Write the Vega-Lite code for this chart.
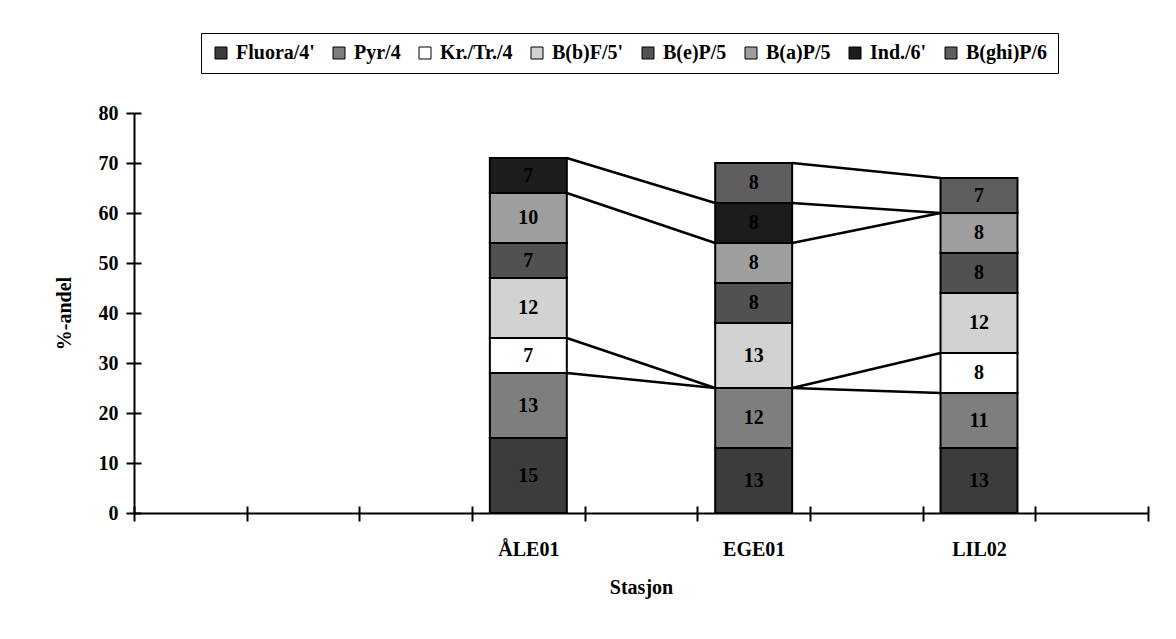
{
  "$schema": "https://vega.github.io/schema/vega-lite/v6.json",
  "width": 1014,
  "height": 400,
  "autosize": {"type": "none"},
  "padding": {"left": 134, "top": 113, "right": 28, "bottom": 126},
  "background": "white",
  "config": {
    "view": {"stroke": null},
    "font": "Liberation Serif",
    "axis": {
      "domainColor": "black", "domainWidth": 2, "tickColor": "black", "tickWidth": 2,
      "labelColor": "black", "titleColor": "black", "grid": false,
      "labelFont": "Liberation Serif", "titleFont": "Liberation Serif",
      "labelFontSize": 20, "labelFontWeight": "bold", "titleFontSize": 20, "titleFontWeight": "bold"
    }
  },
  "datasets": {
    "bars": [
      {"station": "ÅLE01", "series": "Fluora/4'", "k": 1, "value": 15},
      {"station": "ÅLE01", "series": "Pyr/4", "k": 2, "value": 13},
      {"station": "ÅLE01", "series": "Kr./Tr./4", "k": 3, "value": 7},
      {"station": "ÅLE01", "series": "B(b)F/5'", "k": 4, "value": 12},
      {"station": "ÅLE01", "series": "B(e)P/5", "k": 5, "value": 7},
      {"station": "ÅLE01", "series": "B(a)P/5", "k": 6, "value": 10},
      {"station": "ÅLE01", "series": "Ind./6'", "k": 7, "value": 7},
      {"station": "EGE01", "series": "Fluora/4'", "k": 1, "value": 13},
      {"station": "EGE01", "series": "Pyr/4", "k": 2, "value": 12},
      {"station": "EGE01", "series": "B(b)F/5'", "k": 4, "value": 13},
      {"station": "EGE01", "series": "B(e)P/5", "k": 5, "value": 8},
      {"station": "EGE01", "series": "B(a)P/5", "k": 6, "value": 8},
      {"station": "EGE01", "series": "Ind./6'", "k": 7, "value": 8},
      {"station": "EGE01", "series": "B(ghi)P/6", "k": 8, "value": 8},
      {"station": "LIL02", "series": "Fluora/4'", "k": 1, "value": 13},
      {"station": "LIL02", "series": "Pyr/4", "k": 2, "value": 11},
      {"station": "LIL02", "series": "Kr./Tr./4", "k": 3, "value": 8},
      {"station": "LIL02", "series": "B(b)F/5'", "k": 4, "value": 12},
      {"station": "LIL02", "series": "B(e)P/5", "k": 5, "value": 8},
      {"station": "LIL02", "series": "B(a)P/5", "k": 6, "value": 8},
      {"station": "LIL02", "series": "B(ghi)P/6", "k": 8, "value": 7}
    ],
    "links": [
      {"link": 1, "station": "ÅLE01", "side": "R", "value": 71},
      {"link": 1, "station": "EGE01", "side": "L", "value": 62},
      {"link": 2, "station": "ÅLE01", "side": "R", "value": 64},
      {"link": 2, "station": "EGE01", "side": "L", "value": 54},
      {"link": 3, "station": "EGE01", "side": "R", "value": 70},
      {"link": 3, "station": "LIL02", "side": "L", "value": 67},
      {"link": 4, "station": "EGE01", "side": "R", "value": 62},
      {"link": 4, "station": "LIL02", "side": "L", "value": 60},
      {"link": 5, "station": "EGE01", "side": "R", "value": 54},
      {"link": 5, "station": "LIL02", "side": "L", "value": 60},
      {"link": 6, "station": "ÅLE01", "side": "R", "value": 35},
      {"link": 6, "station": "EGE01", "side": "L", "value": 25},
      {"link": 7, "station": "ÅLE01", "side": "R", "value": 28},
      {"link": 7, "station": "EGE01", "side": "L", "value": 25},
      {"link": 8, "station": "EGE01", "side": "R", "value": 25},
      {"link": 8, "station": "LIL02", "side": "L", "value": 32},
      {"link": 9, "station": "EGE01", "side": "R", "value": 25},
      {"link": 9, "station": "LIL02", "side": "L", "value": 24}
    ]
  },
  "layer": [
    {
      "data": {"name": "links"},
      "mark": {"type": "line", "color": "black", "strokeWidth": 2.5},
      "encoding": {
        "x": {
          "field": "station", "type": "nominal",
          "scale": {"domain": ["_1", "_2", "_3", "ÅLE01", "_5", "EGE01", "_7", "LIL02", "_9"], "paddingInner": 0, "paddingOuter": 0},
          "axis": null
        },
        "xOffset": {"field": "side", "type": "nominal", "scale": {"type": "point", "domain": ["L", "R"], "padding": 0.232}},
        "y": {"field": "value", "type": "quantitative", "scale": {"domain": [0, 80]}, "axis": null},
        "detail": {"field": "link", "type": "nominal"}
      }
    },
    {
      "data": {"name": "bars"},
      "mark": {"type": "bar", "stroke": "black", "strokeWidth": 2, "width": {"band": 0.683}},
      "encoding": {
        "x": {
          "field": "station", "type": "nominal",
          "axis": {
            "orient": "bottom", "title": "Stasjon", "tickBand": "extent", "tickSize": 8, "labelAngle": 0,
            "labelExpr": "datum.value == 'ÅLE01' || datum.value == 'EGE01' || datum.value == 'LIL02' ? datum.value : ''",
            "labelPadding": 18, "titlePadding": 18
          }
        },
        "y": {
          "field": "value", "type": "quantitative", "stack": "zero",
          "axis": {"orient": "left", "title": "%-andel", "values": [0, 10, 20, 30, 40, 50, 60, 70, 80], "tickSize": 8, "labelPadding": 8, "titlePadding": 24}
        },
        "color": {
          "field": "series", "type": "nominal",
          "scale": {
            "domain": ["Fluora/4'", "Pyr/4", "Kr./Tr./4", "B(b)F/5'", "B(e)P/5", "B(a)P/5", "Ind./6'", "B(ghi)P/6"],
            "range": ["#3c3c3c", "#7e7e7e", "#ffffff", "#d2d2d2", "#515151", "#9e9e9e", "#1c1c1c", "#5e5e5e"]
          },
          "legend": {
            "orient": "none", "legendX": 67, "legendY": -80, "direction": "horizontal", "columns": 8,
            "title": null, "symbolType": "square", "symbolSize": 144, "symbolStrokeColor": "black", "symbolStrokeWidth": 1,
            "symbolOpacity": 1, "labelFont": "Liberation Serif", "labelFontSize": 20, "labelFontWeight": "bold", "labelColor": "black",
            "labelOffset": 5, "columnPadding": 14, "padding": 10, "strokeColor": "black", "labelLimit": 200
          }
        },
        "order": {"field": "k", "type": "quantitative"}
      }
    },
    {
      "data": {"name": "bars"},
      "mark": {"type": "text", "font": "Liberation Serif", "fontSize": 20, "fontWeight": "bold", "baseline": "middle", "color": "black"},
      "encoding": {
        "x": {
          "field": "station", "type": "nominal",
          "axis": {"orient": "bottom", "tickBand": "extent", "tickSize": -7, "labels": false, "domain": false, "title": null}
        },
        "y": {
          "field": "value", "type": "quantitative", "stack": "zero", "bandPosition": 0.5,
          "axis": {"orient": "left", "values": [0, 10, 20, 30, 40, 50, 60, 70, 80], "tickSize": -7, "labels": false, "domain": false, "title": null}
        },
        "detail": {"field": "series", "type": "nominal"},
        "order": {"field": "k", "type": "quantitative"},
        "text": {"field": "value", "type": "quantitative"}
      }
    }
  ],
  "resolve": {"scale": {"xOffset": "independent"}, "axis": {"x": "independent", "y": "independent"}}
}
